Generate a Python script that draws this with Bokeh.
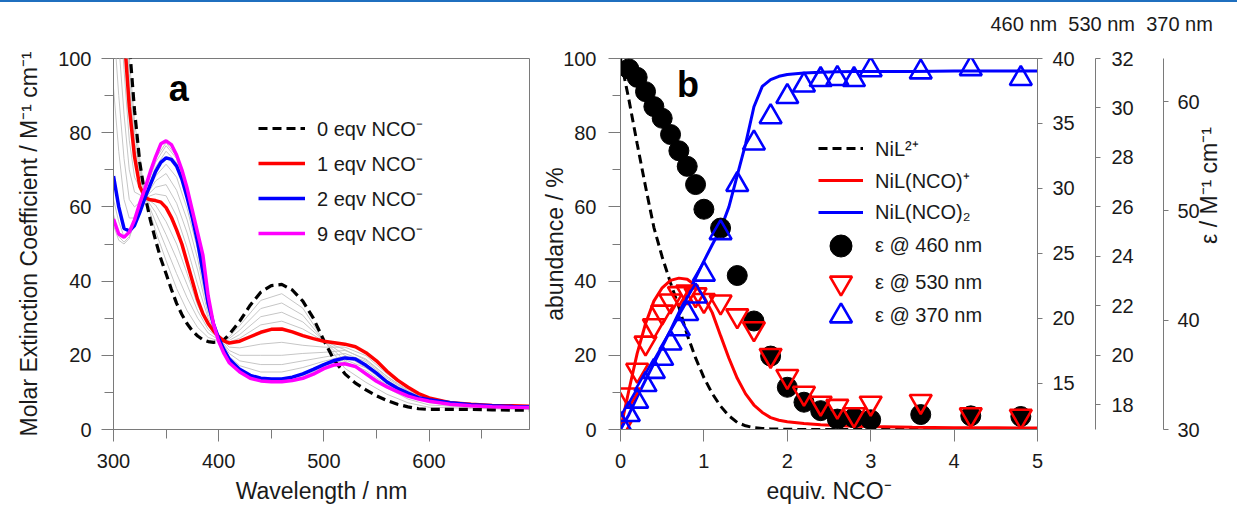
import math
from bokeh.plotting import figure
from bokeh.models import Range1d, LinearAxis, SingleIntervalTicker, Legend, LegendItem, Label, Title
from bokeh.layouts import row
from bokeh.embed import file_html
from bokeh.resources import INLINE

# ---------------- data: panel a (spectra) ----------------
wl = [300, 305, 310, 315, 320, 325, 330, 335, 340, 345, 350, 355, 360, 365, 370, 375, 380, 385, 390, 395,
      400, 405, 410, 420, 430, 440, 450, 460, 470, 480, 490, 500, 510, 520, 530, 540, 550, 560, 570, 580,
      590, 600, 620, 640, 660, 680, 695]
eqv0 = [170, 145, 122, 104, 86, 72, 63, 56.5, 51, 46, 42, 37.8, 34, 31, 28.5, 26.6, 25.2, 24.2, 23.7, 23.5,
        23.6, 24.2, 25.6, 29.2, 33.5, 37, 38.8, 39.1, 37.6, 34.6, 30, 24, 18.6, 15, 12.5, 10.7, 9.1, 7.8, 6.8, 6.1,
        5.6, 5.4, 5.4, 5.4, 5.3, 5.2, 5.2]
eqv1 = [150, 128, 107, 87, 73.5, 65.5, 62.5, 61.9, 61.7, 61.3, 59.8, 57.2, 53.8, 50, 45, 40, 35, 31.2, 28.6, 26.6,
        25, 23.9, 23.3, 23.8, 25, 26.2, 27, 27.1, 26.3, 25.3, 24.5, 23.8, 23.4, 23, 22.3, 20.7, 18.5, 15.7, 13.3, 11.4,
        9.7, 8.5, 7.2, 6.8, 6.5, 6.4, 6.3]
eqv2 = [68.3, 60, 54.2, 53.5, 55, 58.5, 62.5, 66, 69.5, 72, 73.2, 72.8, 71, 67.5, 62.5, 57, 50.5, 42.5, 34, 28.5,
        24.6, 21.5, 19, 16.2, 14.6, 13.8, 13.6, 13.6, 14.1, 15, 16.2, 17.5, 18.6, 19.3, 19, 17.3, 15.2, 12.8, 11.1, 9.8,
        8.6, 8, 7.2, 6.7, 6.4, 6.2, 6.1]
eqv9 = [56.7, 52.7, 51.8, 53.2, 56.5, 61, 65, 69.5, 73.5, 77, 77.8, 76.8, 74, 70, 65, 59, 53, 47, 36, 28.5,
        23.75, 20.5, 18, 15.5, 13.8, 13.1, 12.9, 12.9, 13.2, 13.8, 14.9, 16.4, 17.4, 17.7, 17, 15, 13, 11.5, 10.2, 9,
        8.2, 7.6, 6.8, 6.4, 6.1, 6, 5.9]

wl_gray = [300, 305, 310, 315, 320, 330, 340, 350, 360, 370, 380, 390, 400, 410, 420, 440, 460, 480, 500, 520,
           540, 560, 580, 600, 640, 695]
gray_1 = [165, 141, 119, 100, 83, 63, 53.5, 45.5, 38, 32, 27.5, 24.8, 23.9, 25, 28, 34.8, 36.6, 32.7, 24, 16.5, 12.7, 9.5, 7.2, 6, 5.7, 5.4]
gray_2 = [160, 137, 115, 96, 80, 62.8, 56, 49, 42, 35.5, 30, 26, 24.2, 24.5, 26.8, 32.6, 34.1, 30.8, 23.9, 18.5, 14.7, 11.2, 8.2, 6.6, 6, 5.6]
gray_3 = [156, 133, 112, 92.5, 77.5, 62.7, 58.5, 52.5, 46, 39, 32, 27, 24.5, 24, 25.6, 30.4, 31.6, 29, 23.9, 20, 16.7, 12.8, 9.3, 7.2, 6.2, 5.8]
gray_4 = [153, 130, 109, 89.5, 75.5, 62.6, 60.5, 56, 50, 42, 33.5, 28, 24.8, 23.6, 24.6, 28.2, 29.2, 27.1, 23.8, 21.5, 18.7, 14.3, 10.3, 7.8, 6.5, 6]
gray_5 = [140, 118, 97, 78, 68, 62.5, 63.5, 63, 57.5, 49, 39, 30, 25, 22.2, 22, 23, 23.5, 22.7, 22.2, 22.2, 19.9, 15, 11, 8.4, 6.8, 6.2]
gray_6 = [125, 104, 85, 70, 64, 62.5, 65.3, 66, 61, 53, 43, 31, 24.9, 21.3, 20, 20, 20, 20.5, 20.8, 21.3, 19, 14.3, 10.6, 8.3, 6.8, 6.2]
gray_7 = [110, 90, 73, 62, 60, 62.5, 67, 69, 64.5, 56.5, 46, 32, 24.8, 20.5, 18.5, 17.5, 17.5, 18.5, 19.5, 20.5, 18.3, 13.8, 10.3, 8.2, 6.7, 6.2]
gray_8 = [92, 75, 62, 57, 57, 62.5, 68.3, 71.5, 68, 59.5, 48.5, 33, 24.7, 19.7, 17.2, 15.5, 15.5, 16.7, 18.4, 19.8, 17.7, 13.3, 10, 8.1, 6.7, 6.1]
gray_9 = [62, 56, 52, 53, 55.5, 63, 70.7, 75, 72, 63.5, 52, 34.5, 24.3, 18.6, 15.9, 13.5, 13.3, 14.6, 17.2, 18.8, 16.6, 12.4, 9.5, 7.9, 6.6, 6]
gray_10 = [58, 52, 50.5, 52, 55.5, 64, 72, 76.5, 73, 64.2, 52.5, 35.2, 24, 18.3, 15.7, 13.3, 13.1, 14.2, 16.9, 18.3, 15.9, 12, 9.3, 7.8, 6.5, 6]
gray_11 = [55, 51, 50, 51.5, 56, 64.5, 73, 77.3, 73.6, 64.7, 52.8, 35.7, 23.9, 18.1, 15.6, 13.2, 13, 14, 16.6, 18, 15.4, 11.8, 9.1, 7.7, 6.5, 6]
gray_spectra = [gray_1, gray_2, gray_3, gray_4, gray_5, gray_6, gray_7, gray_8, gray_9, gray_10, gray_11]

legend_a = ["0 eqv NCO\u207b", "1 eqv NCO\u207b", "2 eqv NCO\u207b", "9 eqv NCO\u207b"]

# ---------------- data: panel b (titration) ----------------
equiv_fit = [0, 0.1, 0.2, 0.3, 0.4, 0.5, 0.6, 0.7, 0.8, 0.9, 1.0, 1.1, 1.2, 1.3, 1.4, 1.5, 1.6, 1.7, 1.8, 1.9,
             2.0, 2.2, 2.4, 2.6, 2.8, 3.0, 3.5, 4.0, 4.5, 5.0]
frac_NiL = [100, 89, 77, 65.5, 54.5, 46.5, 39.5, 33, 25.5, 19.3, 14, 9.7, 6.3, 3.7, 1.9, 1.0, 0.5, 0.3, 0.15, 0.1,
            0.05, 0, 0, 0, 0, 0, 0, 0, 0, 0]
frac_NiL_NCO = [0, 10.5, 20.5, 28.5, 34.6, 38.2, 40.2, 40.8, 40.5, 38.8, 35.8, 31.5, 25.3, 19.2, 13.8, 9.6, 6.6, 4.6, 3.2, 2.5,
                2.1, 1.6, 1.3, 1.1, 0.9, 0.8, 0.6, 0.5, 0.45, 0.4]
frac_NiL_NCO2 = [0, 4, 8.8, 13.3, 17.8, 22.3, 26.8, 31.5, 36.2, 40.8, 45.4, 49.8, 54, 60, 68.5, 77, 87, 92.5, 94.3, 95.2,
                 95.7, 96.1, 96.3, 96.4, 96.5, 96.5, 96.5, 96.6, 96.6, 96.6]

equiv_pts = [0, 0.1, 0.2, 0.3, 0.4, 0.5, 0.6, 0.7, 0.8, 0.9, 1.0, 1.2, 1.4, 1.6, 1.8, 2.0, 2.2, 2.4, 2.6, 2.8,
             3.0, 3.6, 4.2, 4.8]
equiv_460 = [0.1, 0.2, 0.3, 0.4, 0.5, 0.6, 0.7, 0.8, 0.9, 1.0, 1.2, 1.4, 1.6, 1.8, 2.0, 2.2, 2.4, 2.6, 2.8,
             3.0, 3.6, 4.2, 4.8]
eps460 = [39.2, 38.55, 37.45, 36.3, 35.4, 34.15, 32.9, 31.7, 30.3, 28.4, 26.95, 23.3, 19.8, 17.1, 14.7, 13.55,
          12.9, 12.25, 12.35, 12.2, 12.6, 12.5, 12.45]
eps530 = [17.07, 18.4, 19.4, 20.5, 21.2, 21.75, 22.2, 22.5, 22.56, 22.45, 22.22, 22.16, 21.6, 21.08, 20.0, 19.15,
          18.47, 18.07, 17.94, 17.6, 18.07, 18.14, 17.6, 17.54]
eps370 = [30.45, 31.36, 32.58, 34.1, 35.3, 36.5, 37.9, 39.2, 40.6, 42.2, 44.2, 48.0, 52.4, 56.2, 58.6, 60.45,
          61.5, 62.0, 62.1, 62.0, 62.9, 62.7, 63.0, 62.1]

legend_b = ["NiL\u00b2\u207a", "NiL(NCO)\u207a", "NiL(NCO)\u2082",
            "\u03b5 @ 460 nm", "\u03b5 @ 530 nm", "\u03b5 @ 370 nm"]
wavelength_tags = ["460 nm", "530 nm", "370 nm"]

# ---------------- styling helpers ----------------
FONT = "Liberation Sans"
TXT = "#1a1a1a"
AX = "#7a7a7a"
TICK_FS = "20px"
LAB_FS = "23px"
H = 504   # figure height (2px blue rule above)
TOP = 56
BOT = H - TOP - 373


def style_axis(ax, major_out=12, minor_out=9, standoff=10):
    ax.axis_line_color = AX
    ax.major_tick_line_color = AX
    ax.minor_tick_line_color = AX
    ax.major_tick_in = 0
    ax.major_tick_out = major_out
    ax.minor_tick_in = 0
    ax.minor_tick_out = minor_out
    ax.major_label_text_font = FONT
    ax.major_label_text_font_size = TICK_FS
    ax.major_label_text_color = TXT
    ax.major_label_standoff = standoff
    ax.axis_label_text_font = FONT
    ax.axis_label_text_font_size = LAB_FS
    ax.axis_label_text_font_style = "normal"
    ax.axis_label_text_color = TXT


def make_legend(items, loc, gw, gh, spacing, standoff):
    return Legend(items=items, location=loc, orientation="vertical", glyph_width=gw, glyph_height=gh,
                  label_height=gh, spacing=spacing, padding=0, margin=0, label_standoff=standoff,
                  border_line_alpha=0, background_fill_alpha=0, label_text_font=FONT,
                  label_text_font_size="20px", label_text_color=TXT, label_text_baseline="middle")


# ---------------- panel a ----------------
p1 = figure(width=530, height=H, x_range=Range1d(300, 695.5), y_range=Range1d(0, 100),
            output_backend="svg", toolbar_location=None,
            min_border_left=113, min_border_right=1, min_border_top=TOP, min_border_bottom=BOT)
p1.xgrid.visible = False
p1.ygrid.visible = False
p1.outline_line_color = AX
p1.xaxis.ticker = SingleIntervalTicker(interval=100, num_minor_ticks=2)
p1.yaxis.ticker = SingleIntervalTicker(interval=20, num_minor_ticks=2)
style_axis(p1.xaxis[0], standoff=12)
style_axis(p1.yaxis[0], standoff=10)
p1.xaxis.axis_label = "Wavelength / nm"
p1.xaxis.axis_label_standoff = 7
p1.yaxis.axis_label = "Molar Extinction Coefficient / M\u207b\u00b9 cm\u207b\u00b9"
p1.yaxis.axis_label_standoff = 13

for g in gray_spectra:
    p1.line(wl_gray, g, line_color="#c6c6c6", line_width=1)

r0 = p1.line(wl, eqv0, line_color="black", line_width=3.2, line_dash="9 5")
r1 = p1.line(wl, eqv1, line_color="#ff0000", line_width=3.5)
r2 = p1.line(wl, eqv2, line_color="#0000ff", line_width=3.5)
r9 = p1.line(wl, eqv9, line_color="#ff00ff", line_width=3.5)

leg1 = make_legend([LegendItem(label=legend_a[i], renderers=[r]) for i, r in enumerate([r0, r1, r2, r9])],
                   (145, 181), 47, 30, 5, 12)
p1.add_layout(leg1)
p1.add_layout(Label(x=362, y=92, text="a", text_font=FONT, text_font_style="bold", text_font_size="36px",
                    text_align="center", text_baseline="middle", text_color="black"))

# ---------------- panel b ----------------
p2 = figure(width=707, height=H, x_range=Range1d(0, 5), y_range=Range1d(0, 100),
            output_backend="svg", toolbar_location=None,
            min_border_left=90, min_border_right=200, min_border_top=TOP, min_border_bottom=BOT)
p2.xgrid.visible = False
p2.ygrid.visible = False
p2.outline_line_color = AX
p2.extra_y_ranges = {"r460": Range1d(11.45, 40), "r530": Range1d(17, 32), "r370": Range1d(30, 63.94)}
p2.xaxis.ticker = SingleIntervalTicker(interval=1, num_minor_ticks=0)
p2.yaxis.ticker = SingleIntervalTicker(interval=20, num_minor_ticks=2)
style_axis(p2.xaxis[0], standoff=12)
style_axis(p2.yaxis[0], minor_out=8, standoff=12)
p2.xaxis.axis_label = "equiv. NCO\u207b"
p2.xaxis.axis_label_standoff = 7
p2.yaxis.axis_label = "abundance / %"
p2.yaxis.axis_label_standoff = -8

# wavelength tags above the three right-hand axes: an empty spacer title next to
# the frame, then the tag line above it
spacer = Title(text="\u00a0", text_font_size="2px", align="left", offset=370)
if "standoff" in spacer.properties():
    spacer.standoff = 20
p2.add_layout(spacer, "above")
tags = Title(text="\u00a0\u00a0".join(wavelength_tags), align="left", offset=370, text_font=FONT,
             text_font_size="20px", text_font_style="normal", text_color=TXT)
if "standoff" in tags.properties():
    tags.standoff = 0
p2.add_layout(tags, "above")

ax460 = LinearAxis(y_range_name="r460", ticker=SingleIntervalTicker(interval=5, num_minor_ticks=0))
style_axis(ax460, major_out=5, minor_out=0, standoff=10)
ax460.axis_label = " "
ax460.axis_label_text_font_size = "10px"
ax460.axis_label_standoff = 4
p2.add_layout(ax460, "right")

ax530 = LinearAxis(y_range_name="r530", ticker=SingleIntervalTicker(interval=2, num_minor_ticks=0))
style_axis(ax530, major_out=5, minor_out=0, standoff=11)
ax530.axis_label = " "
ax530.axis_label_text_font_size = "10px"
ax530.axis_label_standoff = 13
p2.add_layout(ax530, "right")

ax370 = LinearAxis(y_range_name="r370", ticker=SingleIntervalTicker(interval=10, num_minor_ticks=0))
style_axis(ax370, major_out=5, minor_out=0, standoff=9)
ax370.axis_label = "\u03b5 / M\u207b\u00b9 cm\u207b\u00b9"
ax370.axis_label_standoff = 6
if "axis_label_orientation" in ax370.properties():
    ax370.axis_label_orientation = math.pi / 2
p2.add_layout(ax370, "right")

lf = p2.line(equiv_fit, frac_NiL, line_color="black", line_width=3, line_dash="9 5")
lm = p2.line(equiv_fit, frac_NiL_NCO, line_color="#ff0000", line_width=3)
lb = p2.line(equiv_fit, frac_NiL_NCO2, line_color="#0000ff", line_width=3)

s460 = p2.scatter(equiv_460, eps460, y_range_name="r460", marker="circle", size=20,
                  fill_color="black", line_color="black")
s530 = p2.scatter(equiv_pts, eps530, y_range_name="r530", marker="inverted_triangle", size=22,
                  fill_color=None, line_color="#ff0000", line_width=2.6)
s370 = p2.scatter(equiv_pts, eps370, y_range_name="r370", marker="triangle", size=22,
                  fill_color=None, line_color="#0000ff", line_width=2.6)

FB = 431.3  # frame bottom on the page
leg2 = make_legend([LegendItem(label=legend_b[i], renderers=[r]) for i, r in enumerate([lf, lm, lb])],
                   (198, round(FB - 229)), 45, 30, 2, 12)
p2.add_layout(leg2)
for lab, rend, cy in zip(legend_b[3:], [s460, s530, s370], [248.3, 285.0, 318.3]):
    lg = make_legend([LegendItem(label=lab, renderers=[rend])], (193, round(FB - (cy + 27.5))), 55, 55, 0, 7)
    p2.add_layout(lg)

p2.add_layout(Label(x=0.81, y=93, text="b", text_font=FONT, text_font_style="bold", text_font_size="36px",
                    text_align="center", text_baseline="middle", text_color="black"))

layout = row(p1, p2, styles={"border-top": "2px solid #1f6fbf"})
open("out.html", "w").write(file_html(layout, INLINE))
